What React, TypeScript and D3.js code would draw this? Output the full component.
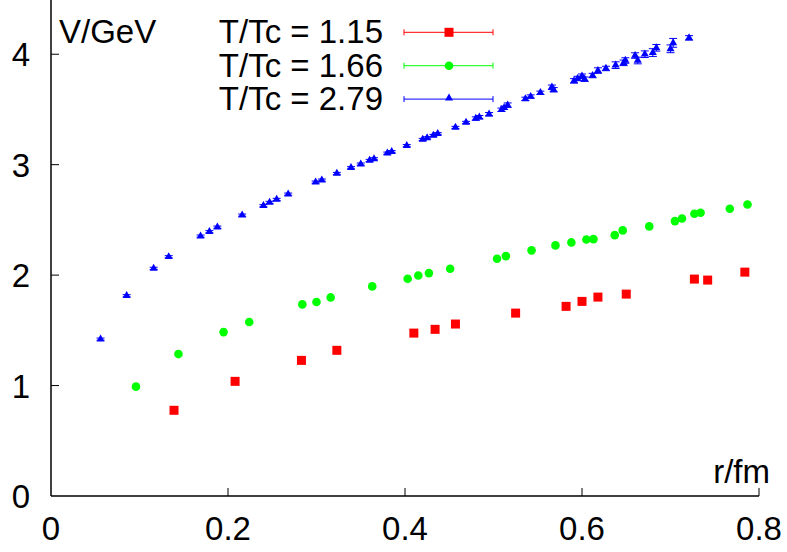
import React, { useEffect, useRef } from "react";
import * as d3 from "d3";

// T/Tc = 1.15 (red squares)
const rRed = [0.139, 0.208, 0.283, 0.323, 0.41, 0.434, 0.457, 0.525, 0.582, 0.6, 0.618, 0.65, 0.727, 0.742, 0.784];
const vRed = [0.776, 1.038, 1.228, 1.319, 1.475, 1.509, 1.557, 1.656, 1.717, 1.762, 1.801, 1.828, 1.964, 1.955, 2.027];

// T/Tc = 1.66 (green circles)
const rGreen = [
  0.096, 0.144, 0.195, 0.224, 0.284, 0.3, 0.316, 0.363, 0.403, 0.415, 0.427, 0.451, 0.504, 0.514,
  0.543, 0.57, 0.588, 0.605, 0.613, 0.637, 0.646, 0.676, 0.705, 0.713, 0.727, 0.734, 0.767, 0.787,
];
const vGreen = [
  0.99, 1.285, 1.484, 1.575, 1.735, 1.756, 1.798, 1.898, 1.967, 1.996, 2.018, 2.058, 2.148, 2.172,
  2.224, 2.269, 2.296, 2.323, 2.326, 2.362, 2.405, 2.441, 2.489, 2.513, 2.556, 2.565, 2.601, 2.64,
];

// T/Tc = 2.79 (blue triangles, with error bars)
const rBlue = [
  0.056, 0.0855, 0.116, 0.133, 0.169, 0.179, 0.188, 0.216, 0.24, 0.247, 0.255, 0.268, 0.299, 0.306,
  0.323, 0.339, 0.35, 0.36, 0.365, 0.38, 0.385, 0.402, 0.42, 0.425, 0.432, 0.437, 0.457, 0.469,
  0.48, 0.484, 0.495, 0.509, 0.512, 0.516, 0.536, 0.542, 0.553, 0.566, 0.568, 0.591, 0.595, 0.6,
  0.603, 0.612, 0.618, 0.627, 0.638, 0.647, 0.649, 0.66, 0.663, 0.671, 0.68, 0.684, 0.7, 0.703, 0.721,
];
const vBlue = [
  1.42, 1.813, 2.061, 2.166, 2.353, 2.393, 2.434, 2.543, 2.628, 2.658, 2.685, 2.733, 2.842, 2.86,
  2.92, 2.972, 3.005, 3.038, 3.053, 3.104, 3.117, 3.172, 3.228, 3.243, 3.264, 3.28, 3.337, 3.382,
  3.418, 3.43, 3.457, 3.497, 3.515, 3.539, 3.596, 3.617, 3.651, 3.701, 3.678, 3.759, 3.78, 3.801,
  3.774, 3.807, 3.852, 3.871, 3.901, 3.922, 3.943, 3.988, 3.943, 4.0, 4.015, 4.058, 4.049, 4.103, 4.148,
];
const eBlue = [
  0.01, 0.01, 0.01, 0.01, 0.01, 0.01, 0.01, 0.01, 0.01, 0.01, 0.01, 0.01, 0.01, 0.01,
  0.01, 0.01, 0.01, 0.01, 0.01, 0.01, 0.01, 0.01, 0.01, 0.01, 0.01, 0.01, 0.01, 0.01,
  0.015, 0.015, 0.015, 0.015, 0.015, 0.02, 0.015, 0.015, 0.015, 0.02, 0.02, 0.02, 0.02, 0.02,
  0.02, 0.02, 0.025, 0.02, 0.03, 0.025, 0.025, 0.025, 0.03, 0.03, 0.035, 0.03, 0.035, 0.04, 0.02,
];

const xTicks = [0, 0.2, 0.4, 0.6, 0.8];
const yTicks = [0, 1, 2, 3, 4];
const legendLabels = ["T/Tc = 1.15", "T/Tc = 1.66", "T/Tc = 2.79"];

const RED = "#ff0000";
const GREEN = "#00ff00";
const BLUE = "#0000ff";

function App() {
  const svgRef = useRef<SVGSVGElement>(null);
  const width = 787;
  const height = 552;

  useEffect(() => {
    const svg = d3.select(svgRef.current);
    svg.selectAll("*").remove();

    const font = "'Liberation Sans', Arial, sans-serif";
    const fs = 33;

    const x = d3.scaleLinear().domain([0, 0.8]).range([51, 759]);
    const y = d3.scaleLinear().domain([0, 4.5]).range([496, -1]);

    // axes (left + bottom only, inward ticks)
    svg.append("line").attr("x1", x(0)).attr("x2", x(0.8)).attr("y1", y(0)).attr("y2", y(0))
      .attr("stroke", "#000").attr("stroke-width", 1.5);
    svg.append("line").attr("x1", x(0)).attr("x2", x(0)).attr("y1", y(0)).attr("y2", 0)
      .attr("stroke", "#000").attr("stroke-width", 1.5);

    xTicks.forEach((t) => {
      if (t > 0) {
        svg.append("line").attr("x1", x(t)).attr("x2", x(t)).attr("y1", y(0)).attr("y2", y(0) - 8)
          .attr("stroke", "#000").attr("stroke-width", 1);
      }
      svg.append("text").attr("x", x(t)).attr("y", 540).attr("text-anchor", "middle")
        .style("font-family", font).style("font-size", `${fs}px`).text(String(t));
    });

    yTicks.forEach((t) => {
      if (t > 0) {
        svg.append("line").attr("x1", x(0)).attr("x2", x(0) + 8).attr("y1", y(t)).attr("y2", y(t))
          .attr("stroke", "#000").attr("stroke-width", 1);
      }
      svg.append("text").attr("x", 30).attr("y", y(t) + 12).attr("text-anchor", "end")
        .style("font-family", font).style("font-size", `${fs}px`).text(String(t));
    });

    // axis labels
    svg.append("text").attr("x", 59).attr("y", 43)
      .style("font-family", font).style("font-size", `${fs}px`).text("V/GeV");
    svg.append("text").attr("x", 770).attr("y", 483).attr("text-anchor", "end")
      .style("font-family", font).style("font-size", `${fs}px`).text("r/fm");

    const tri = d3.symbol().type(d3.symbolTriangle).size(28);

    // blue triangles with error bars
    const gb = svg.append("g");
    rBlue.forEach((r, i) => {
      const cx = x(r);
      const y1 = y(vBlue[i] + eBlue[i]);
      const y2 = y(vBlue[i] - eBlue[i]);
      gb.append("line").attr("x1", cx).attr("x2", cx).attr("y1", y1).attr("y2", y2).attr("stroke", BLUE);
      gb.append("line").attr("x1", cx - 4).attr("x2", cx + 4).attr("y1", y1).attr("y2", y1).attr("stroke", BLUE);
      gb.append("line").attr("x1", cx - 4).attr("x2", cx + 4).attr("y1", y2).attr("y2", y2).attr("stroke", BLUE);
      gb.append("path").attr("d", tri()).attr("transform", `translate(${cx},${y(vBlue[i])})`).attr("fill", BLUE);
    });

    // green circles
    svg.append("g").selectAll("circle").data(rGreen).enter().append("circle")
      .attr("cx", (d) => x(d)).attr("cy", (d, i) => y(vGreen[i])).attr("r", 4.3).attr("fill", GREEN);

    // red squares
    const sq = 9;
    svg.append("g").selectAll("rect").data(rRed).enter().append("rect")
      .attr("x", (d) => x(d) - sq / 2).attr("y", (d, i) => y(vRed[i]) - sq / 2)
      .attr("width", sq).attr("height", sq).attr("fill", RED);

    // legend
    const colors = [RED, GREEN, BLUE];
    legendLabels.forEach((lab, i) => {
      const base = 43 + i * 33.5;
      const ly = 32.3 + i * 33.4;
      svg.append("text").attr("x", 383).attr("y", base).attr("text-anchor", "end")
        .style("font-family", font).style("font-size", `${fs}px`).text(lab);
      const c = colors[i];
      svg.append("line").attr("x1", 404).attr("x2", 493).attr("y1", ly).attr("y2", ly).attr("stroke", c);
      svg.append("line").attr("x1", 404).attr("x2", 404).attr("y1", ly - 3).attr("y2", ly + 3).attr("stroke", c);
      svg.append("line").attr("x1", 493).attr("x2", 493).attr("y1", ly - 3).attr("y2", ly + 3).attr("stroke", c);
      if (i === 0) {
        svg.append("rect").attr("x", 449 - sq / 2).attr("y", ly - sq / 2).attr("width", sq).attr("height", sq).attr("fill", c);
      } else if (i === 1) {
        svg.append("circle").attr("cx", 449).attr("cy", ly).attr("r", 4.3).attr("fill", c);
      } else {
        svg.append("path").attr("d", tri()).attr("transform", `translate(449,${ly - 1})`).attr("fill", c);
      }
    });
  }, []);

  return (
    <svg
      ref={svgRef}
      width={width}
      height={height}
      style={{ position: "absolute", left: 0, top: 0, background: "#fff" }}
    ></svg>
  );
}

export default App;
